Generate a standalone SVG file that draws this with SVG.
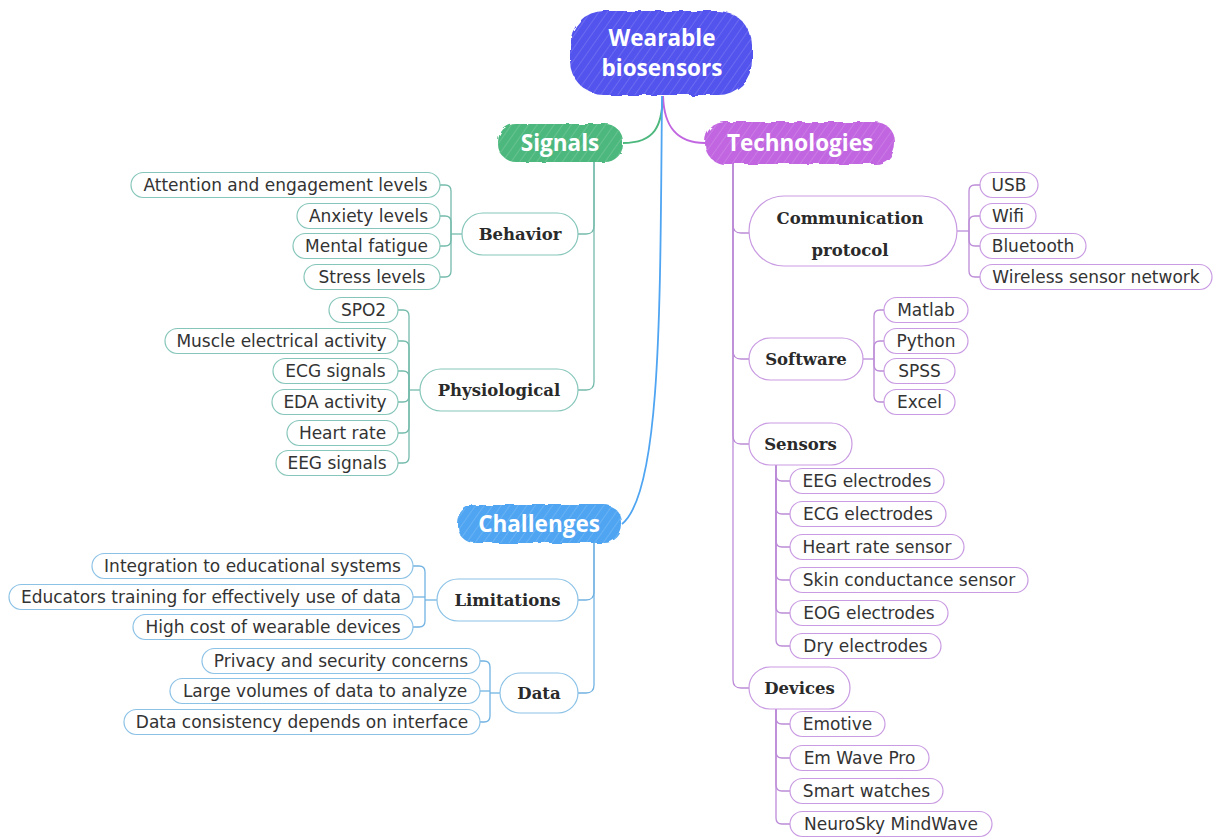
<svg xmlns="http://www.w3.org/2000/svg" width="1213" height="838" viewBox="0 0 1213 838">
<style>
.leaf rect{fill:#fff;stroke-width:1.2}
.leaf text{font-family:"DejaVu Sans",Verdana,sans-serif;font-size:17px;fill:#333;text-anchor:middle}
.sub rect{fill:#fff;stroke-width:1.2}
.sub text{font-family:"DejaVu Serif",serif;font-weight:bold;font-size:16.5px;fill:#2a2a2a;text-anchor:middle}
.main text{font-family:"Open Sans","Noto Sans",sans-serif;font-weight:bold;fill:#fff;text-anchor:middle}
.g rect{stroke:#86C6BA}
.p rect{stroke:#C99BE2}
.b rect{stroke:#8CC2E6}
.cg{fill:none;stroke:#74BBAC;stroke-width:1.3}
.cp{fill:none;stroke:#BC8CD8;stroke-width:1.3}
.cb{fill:none;stroke:#72B3E2;stroke-width:1.3}
</style>
<defs>
<pattern id="hatch" patternUnits="userSpaceOnUse" width="7" height="7" patternTransform="rotate(35)">
<line x1="0" y1="0" x2="0" y2="7" stroke="#fff" stroke-opacity="0.28" stroke-width="1"/>
</pattern>
<filter id="rough" x="-5%" y="-10%" width="110%" height="120%">
<feTurbulence type="fractalNoise" baseFrequency="0.08" numOctaves="2" seed="4"/>
<feDisplacementMap in="SourceGraphic" scale="5"/>
</filter>
</defs>
<rect width="1213" height="838" fill="#fff"/>

<g id="connectors">
<path d="M663 96 C662 126 655 143 623 143" fill="none" stroke="#4DB87E" stroke-width="2"/>
<path d="M663 96 C664 126 676 143 705 143" fill="none" stroke="#C165E0" stroke-width="2"/>
<path d="M662 96 C660 300 662 492 622 524" fill="none" stroke="#4FA5F2" stroke-width="1.8"/>
<path class="cg" d="M594 162 V226 Q594 234 586 234 H578"/>
<path class="cg" d="M594 162 V382 Q594 390 586 390 H578"/>
<path class="cg" d="M462 234 H451"/>
<path class="cg" d="M451 234 V191 Q451 185 445 185 H440"/>
<path class="cg" d="M451 234 V222 Q451 216 445 216 H440"/>
<path class="cg" d="M451 234 V240 Q451 246 445 246 H440"/>
<path class="cg" d="M451 234 V271 Q451 277 445 277 H440"/>
<path class="cg" d="M420 390 H409"/>
<path class="cg" d="M409 390 V316 Q409 310 403 310 H398"/>
<path class="cg" d="M409 390 V347 Q409 341 403 341 H398"/>
<path class="cg" d="M409 390 V377 Q409 371 403 371 H398"/>
<path class="cg" d="M409 390 V396 Q409 402 403 402 H398"/>
<path class="cg" d="M409 390 V427 Q409 433 403 433 H398"/>
<path class="cg" d="M409 390 V457 Q409 463 403 463 H398"/>
<path class="cb" d="M594 543 V592 Q594 600 586 600 H578"/>
<path class="cb" d="M594 543 V685 Q594 693 586 693 H578"/>
<path class="cb" d="M437 600 H425"/>
<path class="cb" d="M425 600 V572 Q425 566 419 566 H413"/>
<path class="cb" d="M425 597 H413"/>
<path class="cb" d="M425 600 V621 Q425 627 419 627 H413"/>
<path class="cb" d="M500 693 H490"/>
<path class="cb" d="M490 693 V667 Q490 661 484 661 H480"/>
<path class="cb" d="M490 691 H480"/>
<path class="cb" d="M490 693 V716 Q490 722 484 722 H480"/>
<path class="cp" d="M733 164 V225 Q733 233 741 233 H749"/>
<path class="cp" d="M733 164 V351 Q733 359 741 359 H749"/>
<path class="cp" d="M733 164 V436 Q733 444 741 444 H749"/>
<path class="cp" d="M733 164 V680 Q733 688 741 688 H749"/>
<path class="cp" d="M957 231 H969"/>
<path class="cp" d="M969 231 V191 Q969 185 975 185 H980"/>
<path class="cp" d="M969 231 V222 Q969 216 975 216 H980"/>
<path class="cp" d="M969 231 V240 Q969 246 975 246 H980"/>
<path class="cp" d="M969 231 V271 Q969 277 975 277 H980"/>
<path class="cp" d="M863 359 H874"/>
<path class="cp" d="M874 359 V316 Q874 310 880 310 H884"/>
<path class="cp" d="M874 359 V347 Q874 341 880 341 H884"/>
<path class="cp" d="M874 359 V365 Q874 371 880 371 H884"/>
<path class="cp" d="M874 359 V396 Q874 402 880 402 H884"/>
<path class="cp" d="M776 465 V475 Q776 481 782 481 H790"/>
<path class="cp" d="M776 465 V508 Q776 514 782 514 H790"/>
<path class="cp" d="M776 465 V541 Q776 547 782 547 H790"/>
<path class="cp" d="M776 465 V574 Q776 580 782 580 H790"/>
<path class="cp" d="M776 465 V607 Q776 613 782 613 H790"/>
<path class="cp" d="M776 465 V640 Q776 646 782 646 H790"/>
<path class="cp" d="M776 709 V718 Q776 724 782 724 H790"/>
<path class="cp" d="M776 709 V752 Q776 758 782 758 H790"/>
<path class="cp" d="M776 709 V785 Q776 791 782 791 H790"/>
<path class="cp" d="M776 709 V818 Q776 824 782 824 H790"/>
</g>

<g id="root" class="main">
<rect x="570" y="11" width="182" height="84" rx="34" fill="#5252EE" filter="url(#rough)"/>
<rect x="570" y="11" width="182" height="84" rx="34" fill="url(#hatch)"/>
<text x="662" y="46" font-size="22.5">Wearable</text>
<text x="662" y="76" font-size="22.5">biosensors</text>
</g>
<g id="signals" class="main">
<rect x="498" y="124" width="125" height="38" rx="18" fill="#4DB87E" filter="url(#rough)"/>
<rect x="498" y="124" width="125" height="38" rx="18" fill="url(#hatch)"/>
<text x="560" y="151" font-size="22.5">Signals</text>
</g>
<g id="technologies" class="main">
<rect x="705" y="122" width="190" height="42" rx="20" fill="#C165E0" filter="url(#rough)"/>
<rect x="705" y="122" width="190" height="42" rx="20" fill="url(#hatch)"/>
<text x="800" y="151" font-size="22.5">Technologies</text>
</g>
<g id="challenges" class="main">
<rect x="457" y="505" width="165" height="38" rx="18" fill="#4FA5F2" filter="url(#rough)"/>
<rect x="457" y="505" width="165" height="38" rx="18" fill="url(#hatch)"/>
<text x="539" y="532" font-size="22.5">Challenges</text>
</g>

<g id="behavior" class="sub g"><rect x="462" y="213" width="116" height="42" rx="21"/><text x="520" y="240">Behavior</text></g>
<g id="physiological" class="sub g"><rect x="420" y="369" width="158" height="42" rx="21"/><text x="499" y="396">Physiological</text></g>

<g id="attention" class="leaf g"><rect x="131" y="172.5" width="309" height="25" rx="12.5"/><text x="285.5" y="191">Attention and engagement levels</text></g>
<g id="anxiety" class="leaf g"><rect x="297" y="203.5" width="143" height="25" rx="12.5"/><text x="368.5" y="222">Anxiety levels</text></g>
<g id="fatigue" class="leaf g"><rect x="293" y="233.5" width="147" height="25" rx="12.5"/><text x="366.5" y="252">Mental fatigue</text></g>
<g id="stress" class="leaf g"><rect x="304" y="264.5" width="136" height="25" rx="12.5"/><text x="372" y="283">Stress levels</text></g>

<g id="spo2" class="leaf g"><rect x="329" y="297.5" width="69" height="25" rx="12.5"/><text x="363.5" y="316">SPO2</text></g>
<g id="muscle" class="leaf g"><rect x="165" y="328.5" width="233" height="25" rx="12.5"/><text x="281.5" y="347">Muscle electrical activity</text></g>
<g id="ecg" class="leaf g"><rect x="273" y="358.5" width="125" height="25" rx="12.5"/><text x="335.5" y="377">ECG signals</text></g>
<g id="eda" class="leaf g"><rect x="272" y="389.5" width="126" height="25" rx="12.5"/><text x="335" y="408">EDA activity</text></g>
<g id="heartrate" class="leaf g"><rect x="287" y="420.5" width="111" height="25" rx="12.5"/><text x="342.5" y="439">Heart rate</text></g>
<g id="eeg" class="leaf g"><rect x="276" y="450.5" width="122" height="25" rx="12.5"/><text x="337" y="469">EEG signals</text></g>

<g id="limitations" class="sub b"><rect x="437" y="579" width="141" height="42" rx="21"/><text x="507.5" y="606">Limitations</text></g>
<g id="data" class="sub b"><rect x="500" y="673" width="78" height="40" rx="20"/><text x="539" y="699">Data</text></g>

<g id="integration" class="leaf b"><rect x="92" y="553.5" width="321" height="25" rx="12.5"/><text x="252.5" y="572">Integration to educational systems</text></g>
<g id="educators" class="leaf b"><rect x="9" y="584.5" width="404" height="25" rx="12.5"/><text x="211" y="603">Educators training for effectively use of data</text></g>
<g id="cost" class="leaf b"><rect x="133" y="614.5" width="280" height="25" rx="12.5"/><text x="273" y="633">High cost of wearable devices</text></g>
<g id="privacy" class="leaf b"><rect x="202" y="648.5" width="278" height="25" rx="12.5"/><text x="341" y="667">Privacy and security concerns</text></g>
<g id="volumes" class="leaf b"><rect x="170" y="678.5" width="310" height="25" rx="12.5"/><text x="325" y="697">Large volumes of data to analyze</text></g>
<g id="consistency" class="leaf b"><rect x="124" y="709.5" width="356" height="25" rx="12.5"/><text x="302" y="728">Data consistency depends on interface</text></g>

<g id="communication" class="sub p"><rect x="749" y="196" width="208" height="70" rx="35"/><text x="850" y="224">Communication</text><text x="850" y="256">protocol</text></g>
<g id="software" class="sub p"><rect x="749" y="338" width="114" height="42" rx="21"/><text x="806" y="365">Software</text></g>
<g id="sensors" class="sub p"><rect x="749" y="423" width="103" height="42" rx="21"/><text x="800.5" y="450">Sensors</text></g>
<g id="devices" class="sub p"><rect x="749" y="667" width="101" height="42" rx="21"/><text x="799.5" y="694">Devices</text></g>

<g id="usb" class="leaf p"><rect x="980" y="172.5" width="58" height="25" rx="12.5"/><text x="1009" y="191">USB</text></g>
<g id="wifi" class="leaf p"><rect x="980" y="203.5" width="56" height="25" rx="12.5"/><text x="1008" y="222">Wifi</text></g>
<g id="bluetooth" class="leaf p"><rect x="980" y="233.5" width="106" height="25" rx="12.5"/><text x="1033" y="252">Bluetooth</text></g>
<g id="wsn" class="leaf p"><rect x="980" y="264.5" width="232" height="25" rx="12.5"/><text x="1096" y="283">Wireless sensor network</text></g>

<g id="matlab" class="leaf p"><rect x="884" y="297.5" width="84" height="25" rx="12.5"/><text x="926" y="316">Matlab</text></g>
<g id="python" class="leaf p"><rect x="884" y="328.5" width="84" height="25" rx="12.5"/><text x="926" y="347">Python</text></g>
<g id="spss" class="leaf p"><rect x="884" y="358.5" width="71" height="25" rx="12.5"/><text x="919.5" y="377">SPSS</text></g>
<g id="excel" class="leaf p"><rect x="884" y="389.5" width="71" height="25" rx="12.5"/><text x="919.5" y="408">Excel</text></g>

<g id="eegelectrodes" class="leaf p"><rect x="790" y="468.5" width="154" height="25" rx="12.5"/><text x="867" y="487">EEG electrodes</text></g>
<g id="ecgelectrodes" class="leaf p"><rect x="790" y="501.5" width="156" height="25" rx="12.5"/><text x="868" y="520">ECG electrodes</text></g>
<g id="hrsensor" class="leaf p"><rect x="790" y="534.5" width="174" height="25" rx="12.5"/><text x="877" y="553">Heart rate sensor</text></g>
<g id="skin" class="leaf p"><rect x="790" y="567.5" width="238" height="25" rx="12.5"/><text x="909" y="586">Skin conductance sensor</text></g>
<g id="eog" class="leaf p"><rect x="790" y="600.5" width="158" height="25" rx="12.5"/><text x="869" y="619">EOG electrodes</text></g>
<g id="dry" class="leaf p"><rect x="790" y="633.5" width="151" height="25" rx="12.5"/><text x="865.5" y="652">Dry electrodes</text></g>

<g id="emotive" class="leaf p"><rect x="790" y="711.5" width="95" height="25" rx="12.5"/><text x="837.5" y="730">Emotive</text></g>
<g id="emwave" class="leaf p"><rect x="790" y="745.5" width="139" height="25" rx="12.5"/><text x="859.5" y="764">Em Wave Pro</text></g>
<g id="smartwatches" class="leaf p"><rect x="790" y="778.5" width="153" height="25" rx="12.5"/><text x="866.5" y="797">Smart watches</text></g>
<g id="neurosky" class="leaf p"><rect x="790" y="811.5" width="202" height="25" rx="12.5"/><text x="891" y="830">NeuroSky MindWave</text></g>
</svg>
